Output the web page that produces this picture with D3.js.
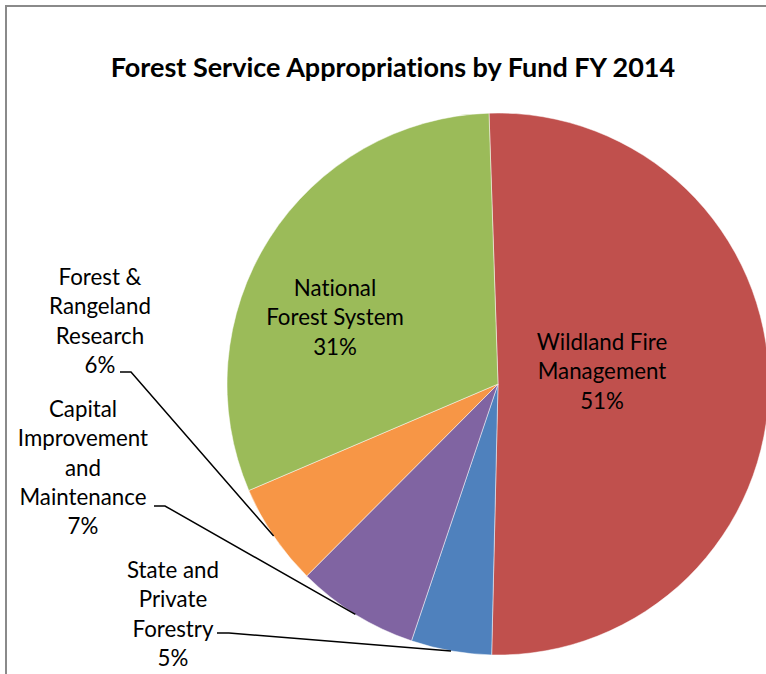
<!DOCTYPE html>
<html>
<head>
<meta charset="utf-8">
<script src="https://cdn.jsdelivr.net/npm/d3@7"></script>
<style>
  html, body { margin: 0; padding: 0; background: #fff; overflow: hidden; }
  text { font-family: Lato, "Open Sans", sans-serif; fill: #000; font-variant-ligatures: none; }
</style>
</head>
<body>
<div id="chart"></div>
<script>
// data, clockwise from 12 o'clock
const funds = [
  ['Wildland Fire', 'Management'],
  ['State and', 'Private', 'Forestry'],
  ['Capital', 'Improvement', 'and', 'Maintenance'],
  ['Forest &', 'Rangeland', 'Research'],
  ['National', 'Forest System']
];
const shares = [50.9, 4.8, 7.3, 6.1, 30.9];
const colors = ['#C0504D', '#4F81BD', '#8064A2', '#F79646', '#9BBB59'];

const width = 766;
const height = 674;
const cx = 498, cy = 384, radius = 271;

// label layout: inside labels sit in the slice, outside ones get a leader line
const labelLayout = [
  { x: 602, y: 350 },
  { x: 173, y: 578, lead: [217, 633, 229, 633] },
  { x: 83, y: 417, lead: [154, 506, 165, 506] },
  { x: 100, y: 285, lead: [120, 372, 131, 372] },
  { x: 335, y: 296 }
];
const lineGap = 29.3;

const svg = d3.select('#chart')
  .append('svg')
  .attr('width', width)
  .attr('height', height);

// chart border (only top/left visible in the frame)
svg.append('rect')
  .attr('x', 6).attr('y', 6)
  .attr('width', 900).attr('height', 900)
  .attr('fill', 'none')
  .attr('stroke', '#8a8a8a')
  .attr('stroke-width', 2);

svg.append('text')
  .attr('x', 393)
  .attr('y', 77)
  .attr('text-anchor', 'middle')
  .attr('font-size', 27)
  .attr('font-weight', 'bold')
  .text('Forest Service Appropriations by Fund FY 2014');

const offset = -1.9 * Math.PI / 180;
const pie = d3.pie()
  .sort(null)
  .startAngle(offset)
  .endAngle(offset + 2 * Math.PI)
  .value((d) => d);

const arcs = pie(shares);
const arc = d3.arc().innerRadius(0).outerRadius(radius);

const g = svg.append('g').attr('transform', `translate(${cx},${cy})`);

g.selectAll('path')
  .data(arcs)
  .enter()
  .append('path')
  .attr('d', arc)
  .attr('fill', (d, i) => colors[i])
  .attr('stroke', '#fff')
  .attr('stroke-opacity', 0.6)
  .attr('stroke-width', 0.8);

// leader lines to the outer edge at the middle of each small slice
arcs.forEach((d, i) => {
  const lay = labelLayout[i];
  if (!lay.lead) return;
  const mid = (d.startAngle + d.endAngle) / 2;
  const ex = cx + radius * Math.sin(mid);
  const ey = cy - radius * Math.cos(mid);
  const l = lay.lead;
  svg.append('path')
    .attr('d', d3.line()([[l[0], l[1]], [l[2], l[3]], [ex, ey]]))
    .attr('fill', 'none')
    .attr('stroke', '#000')
    .attr('stroke-width', 1.5);
});

// labels
arcs.forEach((d, i) => {
  const lay = labelLayout[i];
  const lines = funds[i].concat([Math.round(shares[i]) + '%']);
  const t = svg.append('text')
    .attr('text-anchor', 'middle')
    .attr('font-size', 22.3);
  lines.forEach((s, k) => {
    t.append('tspan')
      .attr('x', lay.x)
      .attr('y', lay.y + k * lineGap)
      .text(s);
  });
});
</script>
</body>
</html>
